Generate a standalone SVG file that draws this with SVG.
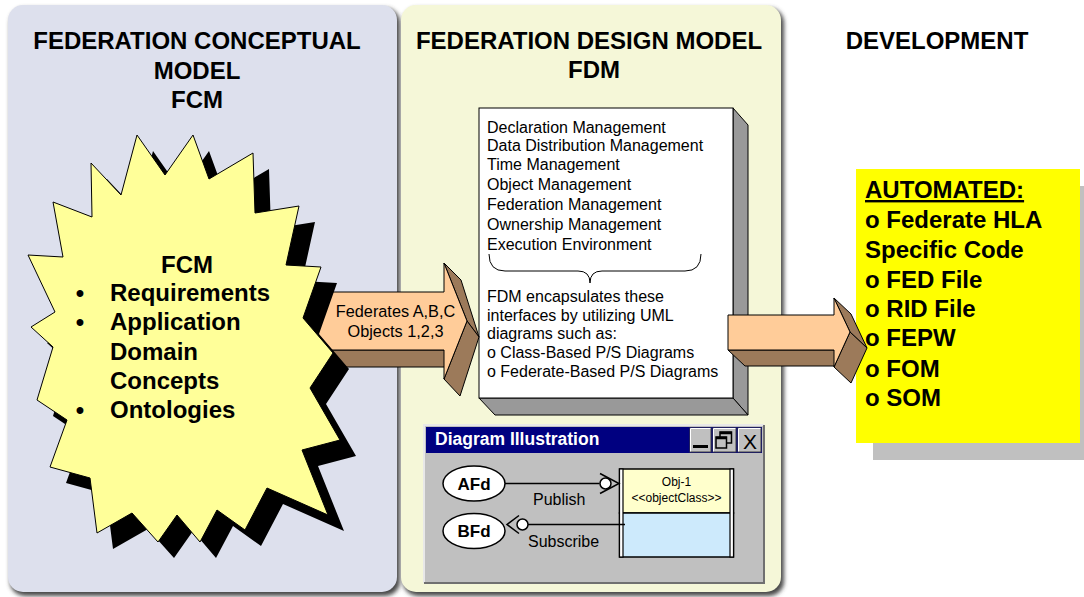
<svg xmlns="http://www.w3.org/2000/svg" width="1084" height="597" viewBox="0 0 1084 597">
<style>
text{font-family:"Liberation Sans",Arial,sans-serif;fill:#000}
.t24{font-size:24px;font-weight:bold}
.t16{font-size:16px}
.mid{text-anchor:middle}
.brown{fill:#9c7a5a;stroke:#000;stroke-width:1;stroke-linejoin:round}
.peach{fill:#ffcc99;stroke:#000;stroke-width:1;stroke-linejoin:round}
.ln{stroke:#000;stroke-width:1.5;fill:none}
</style>
<defs>
<filter id="blur" x="-5%" y="-5%" width="110%" height="110%"><feGaussianBlur stdDeviation="2"/></filter>
</defs>
<rect width="1084" height="597" fill="#fff"/>

<g id="panel-fcm">
<rect x="10" y="8" width="390" height="588" rx="15" fill="#4a4a4a" filter="url(#blur)"/>
<rect x="8" y="5" width="389" height="587" rx="15" fill="#dde0ed"/>
<text class="t24 mid" x="197" y="49">FEDERATION CONCEPTUAL</text>
<text class="t24 mid" x="197" y="79">MODEL</text>
<text class="t24 mid" x="197" y="108">FCM</text>
</g>

<g id="panel-fdm">
<rect x="403" y="8" width="381" height="588" rx="15" fill="#4a4a4a" filter="url(#blur)"/>
<rect x="401" y="5" width="380" height="587" rx="15" fill="#f5f7d8"/>
<text class="t24 mid" x="589" y="49">FEDERATION DESIGN MODEL</text>
<text class="t24 mid" x="594" y="78">FDM</text>
</g>

<g id="panel-dev">
<text class="t24 mid" x="937" y="49">DEVELOPMENT</text>
</g>

<g id="fdm-box">
<polygon points="733,108 748,125 748,415 733,398" fill="#999" stroke="#000" stroke-width="1"/>
<polygon points="479,398 733,398 748,415 495,415" fill="#999" stroke="#000" stroke-width="1"/>
<rect x="479" y="108" width="254" height="290" fill="#fff" stroke="#000" stroke-width="1"/>
<g fill="#1a1a1a">
<text x="487" y="133" class="t16">Declaration Management</text>
<text x="487" y="151" class="t16">Data Distribution Management</text>
<text x="487" y="170" class="t16">Time Management</text>
<text x="487" y="190" class="t16">Object Management</text>
<text x="487" y="210" class="t16">Federation Management</text>
<text x="487" y="230" class="t16">Ownership Management</text>
<text x="487" y="250" class="t16">Execution Environment</text>
<text x="487" y="302" class="t16">FDM encapsulates these</text>
<text x="487" y="321" class="t16">interfaces by utilizing UML</text>
<text x="487" y="339" class="t16">diagrams such as:</text>
<text x="487" y="358" class="t16">o Class-Based P/S Diagrams</text>
<text x="487" y="377" class="t16">o Federate-Based P/S Diagrams</text>
</g>
<path d="M489,254 Q489,271 505,271 L578,271 Q590,271 590,283 Q590,271 602,271 L685,271 Q701,271 701,254" fill="none" stroke="#000" stroke-width="1"/>
</g>

<g id="diagram-window">
<rect x="424" y="425" width="340" height="158" fill="#c0c0c0"/>
<path d="M424,583 V425 H764" stroke="#e8e8e8" stroke-width="2" fill="none"/>
<path d="M424,583 H764 V425" stroke="#707070" stroke-width="2" fill="none"/>
<rect x="426" y="427" width="336" height="26" fill="#000080"/>
<text x="435" y="445" style="font-size:17.5px;font-weight:bold;fill:#fff">Diagram Illustration</text>
<g id="btn-min">
<rect x="690" y="428" width="21" height="24" fill="#c0c0c0" stroke="#404040" stroke-width="1"/>
<path d="M690.5,451.5 V428.5 H710.5" stroke="#fff" fill="none"/>
<rect x="693" y="445" width="15" height="3" fill="#000"/>
</g>
<g id="btn-restore">
<rect x="713" y="428" width="23" height="24" fill="#c0c0c0" stroke="#404040" stroke-width="1"/>
<path d="M713.5,451.5 V428.5 H735.5" stroke="#fff" fill="none"/>
<rect x="720" y="432" width="11.5" height="11" fill="none" stroke="#000" stroke-width="1.5"/>
<rect x="716" y="437" width="10.5" height="11" fill="#c0c0c0" stroke="#000" stroke-width="1.5"/>
<line x1="720" y1="433" x2="731.5" y2="433" stroke="#000" stroke-width="2.5"/>
<line x1="716" y1="438" x2="726.5" y2="438" stroke="#000" stroke-width="2.5"/>
</g>
<g id="btn-close">
<rect x="738" y="428" width="23" height="24" fill="#c0c0c0" stroke="#404040" stroke-width="1"/>
<path d="M738.5,451.5 V428.5 H760.5" stroke="#fff" fill="none"/>
<text x="750" y="448.5" class="mid" style="font-size:21px">X</text>
</g>
<g id="afd">
<ellipse cx="474" cy="483.5" rx="31" ry="17.5" fill="#fff" stroke="#000" stroke-width="1.5"/>
<text x="474" y="489.5" class="mid" style="font-size:17px;font-weight:bold">AFd</text>
</g>
<g id="bfd">
<ellipse cx="474" cy="531" rx="31" ry="17.5" fill="#fff" stroke="#000" stroke-width="1.5"/>
<text x="474" y="537" class="mid" style="font-size:17px;font-weight:bold">BFd</text>
</g>
<g id="obj1">
<rect x="619.5" y="469" width="114" height="44" fill="#ffffcc" stroke="#000" stroke-width="1.5"/>
<rect x="619.5" y="513" width="114" height="44" fill="#cdeafc" stroke="#000" stroke-width="1.5"/>
<rect x="619.5" y="469" width="3.5" height="88" fill="#fff" stroke="#000" stroke-width="1.2"/>
<rect x="730" y="469" width="3.5" height="88" fill="#fff" stroke="#000" stroke-width="1.2"/>
<text x="676.5" y="486" class="mid" style="font-size:12px">Obj-1</text>
<text x="676.5" y="501.5" class="mid" style="font-size:12px">&lt;&lt;objectClass&gt;&gt;</text>
</g>
<g id="ps-links">
<line x1="505" y1="483.5" x2="599.5" y2="483.5" class="ln"/>
<circle cx="605.5" cy="483.5" r="5.5" fill="#fff" stroke="#000" stroke-width="1.5"/>
<polyline points="600,473.5 619,483.5 600,493.5" class="ln"/>
<text x="533" y="505" class="t16">Publish</text>
<line x1="528" y1="524.5" x2="625" y2="524.5" class="ln"/>
<circle cx="522.5" cy="524.5" r="5.5" fill="#fff" stroke="#000" stroke-width="1.5"/>
<polyline points="519,515.5 507,524.5 519,533.5" class="ln"/>
<text x="528" y="547" class="t16">Subscribe</text>
</g>
</g>

<g id="automated">
<rect x="873" y="186" width="224" height="274" fill="#c0c0c0"/>
<rect x="856" y="169" width="224" height="274" fill="#ffff00"/>
</g>

<g id="connectors">
<g id="arrow-fcm-fdm">
<polygon class="brown" points="290,350 444,350 461,367 307,367"/>
<polygon class="brown" points="444,263 467,321 479,337 461,280"/>
<polygon class="brown" points="467,321 444,379 460,396 479,337"/>
<polygon class="peach" points="290,292 444,292 444,263 467,321 444,379 444,350 290,350"/>
<text x="395.5" y="317" class="mid" style="font-size:16.3px">Federates A,B,C</text>
<text x="395.5" y="337" class="mid" style="font-size:16.3px">Objects 1,2,3</text>
</g>
<g id="arrow-fdm-dev">
<polygon class="brown" points="728,350 834,350 851,366 745,366"/>
<polygon class="brown" points="834,298 850,332 867,348 851,314"/>
<polygon class="brown" points="850,332 834,367 851,383 867,348"/>
<polygon class="peach" points="728,315 834,315 834,298 850,332 834,367 834,350 728,350"/>
</g>
</g>

<g id="automated-label">
<text x="865" y="198" class="t24" text-decoration="underline">AUTOMATED:</text>
<text x="865" y="228" class="t24">o Federate HLA</text>
<text x="865" y="258" class="t24">Specific Code</text>
<text x="865" y="288" class="t24">o FED File</text>
<text x="865" y="317" class="t24">o RID File</text>
<text x="865" y="346" class="t24">o FEPW</text>
<text x="865" y="377" class="t24">o FOM</text>
<text x="865" y="406" class="t24">o SOM</text>
</g>

<g id="fcm-star">
<polygon fill="#000" transform="translate(16,16)" points="91,163 121,195 137,135 165,175 193,135 209,179 253,153 255,213 299,206 286,265 321,267 303,318 333,353 310,388 340,440 302,450 328,515 267,488 245,530 217,510 200,542 177,515 158,542 132,513 97,533 90,478 50,467 67,420 37,400 53,347 31,327 55,312 28,255 63,257 53,202 92,217"/>
<polygon fill="#ffff99" stroke="#000" stroke-width="1" points="91,163 121,195 137,135 165,175 193,135 209,179 253,153 255,213 299,206 286,265 321,267 303,318 333,353 310,388 340,440 302,450 328,515 267,488 245,530 217,510 200,542 177,515 158,542 132,513 97,533 90,478 50,467 67,420 37,400 53,347 31,327 55,312 28,255 63,257 53,202 92,217"/>
<text x="187" y="273" class="t24 mid">FCM</text>
<text x="80" y="301" class="t24 mid">•</text>
<text x="110" y="301" class="t24">Requirements</text>
<text x="80" y="330" class="t24 mid">•</text>
<text x="110" y="330" class="t24">Application</text>
<text x="110" y="360" class="t24">Domain</text>
<text x="110" y="389" class="t24">Concepts</text>
<text x="80" y="418" class="t24 mid">•</text>
<text x="110" y="418" class="t24">Ontologies</text>
</g>
</svg>
